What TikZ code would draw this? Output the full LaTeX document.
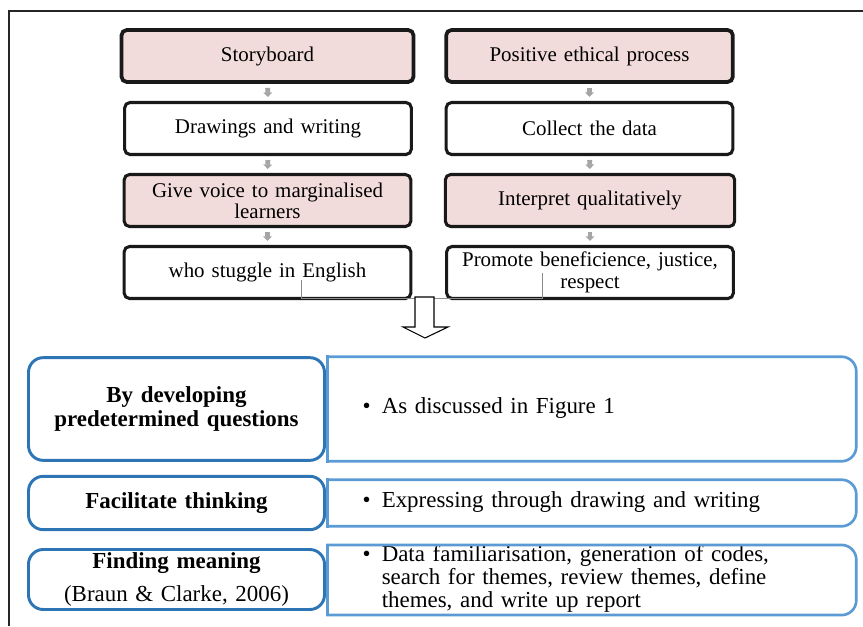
\documentclass[tikz,border=0pt]{standalone}
\usepackage{fontspec}
\setmainfont{Liberation Serif}
\usetikzlibrary{arrows.meta,calc}
\definecolor{pinkfill}{RGB}{242,220,219}
\definecolor{darkblue}{RGB}{46,117,182}
\definecolor{lightblue}{RGB}{91,155,213}
\definecolor{arrowgray}{RGB}{165,165,165}
\tikzset{
  flowbox/.style={shape=rectangle,draw=black!90,line width=2.3pt,rounded corners=4pt,fill=white,
    minimum width=215pt,minimum height=39pt,text width=205pt,align=center,inner sep=1pt,
    font=\fontsize{15.7}{16}\selectfont},
  pinkbox/.style={fill=pinkfill},
  smallarrow/.style={draw=arrowgray,line width=3.6pt,shorten <=3pt,shorten >=3pt,
    -{Triangle[width=6.6pt,length=3.4pt]}},
  stagebox/.style={shape=rectangle,draw=darkblue,line width=2.2pt,rounded corners=11pt,fill=white,
    minimum width=222pt,text width=210pt,align=center,inner sep=1pt,
    font=\fontsize{17.2}{17.4}\selectfont\bfseries},
  notebox/.style={shape=rectangle,minimum width=396pt,text width=344pt,inner xsep=26pt,inner ysep=0pt,
    align=left,font=\fontsize{17.2}{17.4}\selectfont},
  noteline/.style={draw=lightblue,line width=2pt,line cap=rect},
  hollowarrow/.style={draw=black,line width=0.8pt,fill=white},
  frameline/.style={draw=black!85,line width=0.9pt},
  seam/.style={draw=black!45,line width=0.6pt}
}
\newcommand{\bul}[1]{\begin{tabular}{@{}l@{\hspace{8.3pt}}l@{}}\textbullet & #1\end{tabular}}

\begin{document}
\begin{tikzpicture}[x=0.75pt,y=-0.75pt]
\useasboundingbox (0,0) rectangle (863,626);
\draw[frameline] (9,626) -- (9,11) -- (863,11);

% left column
\node(story) at (267.5,56)[flowbox,pinkbox,minimum width=219pt,line width=2.8pt] {Storyboard};
\node(drawing) at (268,128.5)[flowbox]        {Drawings and writing};
\node(voice) at (267.5,200.5)[flowbox,pinkbox] {Give voice to marginalised\\learners};
\node(who) at (267.5,272.5)[flowbox]          {who stuggle in English};
% right column
\node(ethic) at (589.5,56)[flowbox,pinkbox,line width=2.8pt] {Positive ethical process};
\node(collect) at (589.5,128.5)[flowbox]      {Collect the data};
\node(interp) at (590,200.5)[flowbox,pinkbox,minimum width=217pt] {Interpret qualitatively};
\node(promote) at (590,272.5)[flowbox]        {Promote beneficience, justice,\\respect};

\foreach \a/\b in {story/drawing,drawing/voice,voice/who,ethic/collect,collect/interp,interp/promote}
  \draw[smallarrow] (\a.south) -- (\b.north);

\draw[seam] ($(who.south)+(34,-20)$) |- ($(promote.south)+(-48,-2)$) -- ++(0,-25);
\draw[hollowarrow] (415,297) -- (415,327) -- (403,327) -- (425,338) -- (448,327) -- (434,327) -- (434,297) -- cycle;

% bottom rows
\node(n1) at (592,409)[notebox,minimum height=78pt]   {\bul{As discussed in Figure 1}};
\node(n2) at (592,503)[notebox,minimum height=34.5pt] {\bul{Expressing through drawing and writing}};
\node(n3) at (592,580)[notebox,minimum height=51pt]
  {\begin{tabular}{@{}l@{\hspace{8.3pt}}l@{}}\textbullet & Data familiarisation, generation of codes,\\
   & search for themes, review themes, define\\ & themes, and write up report\end{tabular}};
\foreach \n in {n1,n2,n3}{
  \draw[noteline,rounded corners=11pt] (\n.north west) -- (\n.north east) -- (\n.south east) -- (\n.south west);
  \draw[noteline] (\n.south west) -- (\n.north west);
}

\node(q1) at (176.5,409)[stagebox,minimum height=77pt] {By developing\\predetermined questions};
\node(q2) at (176.5,503)[stagebox,minimum height=40pt] {Facilitate thinking};
\node(q3) at (176.5,579.5)[stagebox,minimum height=45pt] {Finding meaning\\[7pt]\mdseries(Braun \& Clarke, 2006)};

\end{tikzpicture}
\end{document}
